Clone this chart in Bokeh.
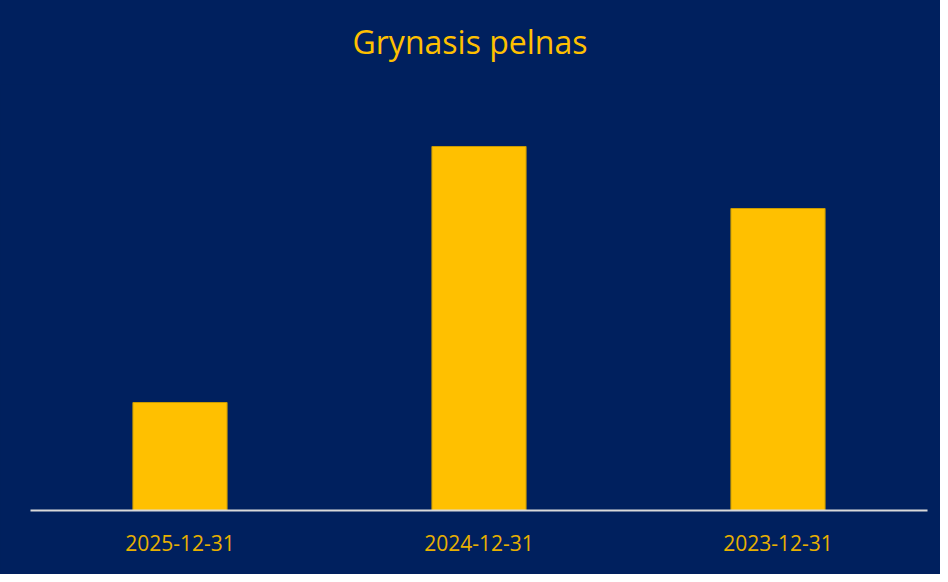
from bokeh.plotting import figure
from bokeh.models import ColumnDataSource, FactorRange, Range1d, Div
from bokeh.layouts import column
from bokeh.embed import file_html
from bokeh.resources import INLINE

categories = ["2025-12-31", "2024-12-31", "2023-12-31"]
values = [108, 364, 302]
title_text = "Grynasis pelnas"

NAVY = "#00205E"
GOLD = "#FFC000"

TITLE_H = 84

title_div = Div(
    text=title_text, width=940, height=TITLE_H, margin=(0, 0, 0, 0),
    styles={
        "background-color": NAVY, "color": GOLD,
        "font-family": "'Open Sans'", "font-size": "32px",
        "text-align": "center", "line-height": f"{TITLE_H}px",
        "width": "940px", "height": f"{TITLE_H}px",
    },
)

src = ColumnDataSource(dict(cat=categories, val=values))

p = figure(
    width=940, height=574 - TITLE_H, margin=(0, 0, 0, 0),
    x_range=FactorRange(*categories, range_padding=0),
    y_range=Range1d(0, 400),
    output_backend="svg", toolbar_location=None,
    min_border_left=30, min_border_right=13,
    min_border_top=110 - TITLE_H, min_border_bottom=64,
    background_fill_color=NAVY, border_fill_color=NAVY,
    outline_line_color=NAVY, outline_line_width=2,
    styles={"background-color": NAVY},
)

p.vbar(x="cat", top="val", width=0.315, source=src,
       fill_color=GOLD, line_color="#C99A00", line_width=1)

p.xgrid.visible = False
p.ygrid.visible = False
p.yaxis.visible = False

ax = p.xaxis[0]
ax.axis_line_color = "#D9D9D9"
ax.axis_line_width = 2
ax.major_tick_line_color = None
ax.minor_tick_line_color = None
ax.major_label_text_color = "#E8B000"
ax.major_label_text_font = "Open Sans"
ax.major_label_text_font_size = "21px"
ax.major_label_standoff = 18

layout = column(title_div, p, spacing=0, margin=(0, 0, 0, 0),
                styles={"background-color": NAVY})
open("out.html", "w").write(file_html(layout, INLINE))
